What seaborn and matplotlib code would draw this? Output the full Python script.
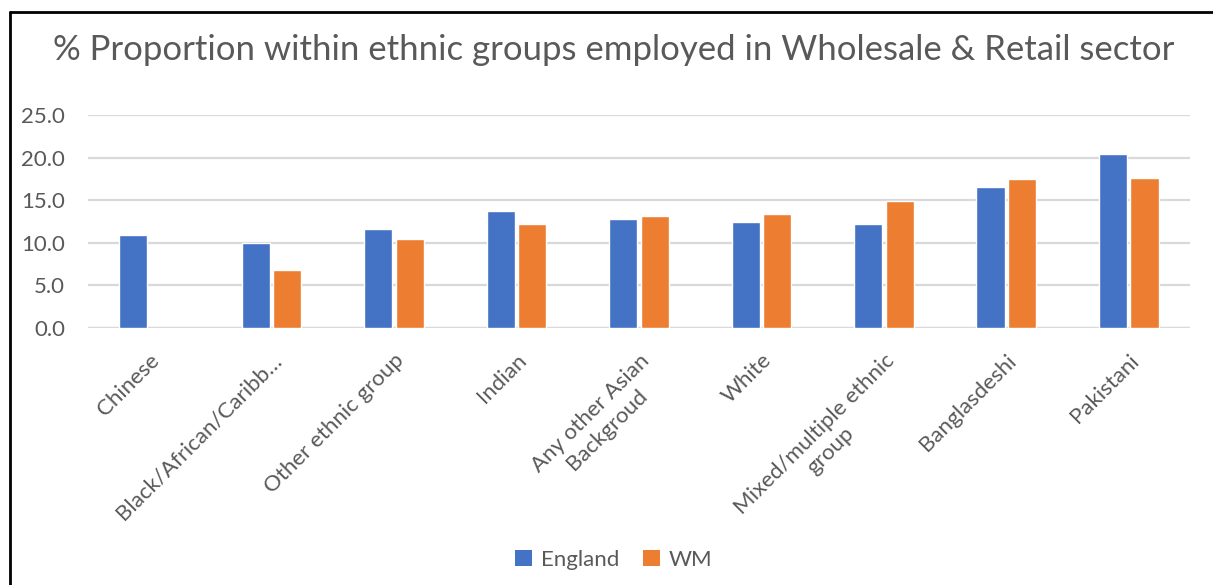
import numpy as np
import pandas as pd
import matplotlib
matplotlib.use("Agg")
import matplotlib.pyplot as plt
from matplotlib.lines import Line2D
from matplotlib.patches import Patch
import seaborn as sns

# Share of each ethnic group working in Wholesale & Retail (%)
categories = [
    "Chinese",
    "Black/African/Caribb…",
    "Other ethnic group",
    "Indian",
    "Any other Asian\nBackgroud",
    "White",
    "Mixed/multiple ethnic\ngroup",
    "Banglasdeshi",
    "Pakistani",
]
england = [10.9, 10.0, 11.6, 13.7, 12.8, 12.4, 12.2, 16.6, 20.4]
wm = [np.nan, 6.8, 10.4, 12.2, 13.2, 13.4, 14.9, 17.5, 17.6]
series = ["England", "WM"]
yticks = [0.0, 5.0, 10.0, 15.0, 20.0, 25.0]

df = pd.DataFrame({
    "group": categories * 2,
    "series": ["England"] * len(categories) + ["WM"] * len(categories),
    "value": england + wm,
})

sns.set_theme(style="white")
plt.rcParams["font.family"] = ["Lato", "DejaVu Sans"]
text_color = "#595959"
grid_color = "#D9D9D9"
palette = {"England": "#4472C4", "WM": "#ED7D31"}

fig = plt.figure(figsize=(12.13, 5.85), dpi=100)
ax = fig.add_axes([0.0725, 0.4393, 0.9085, 0.3641])

sns.barplot(
    data=df, x="group", y="value", hue="series",
    order=categories, hue_order=series, palette=palette,
    width=0.515, gap=0.11, errorbar=None, saturation=1,
    legend=False, ax=ax, zorder=3,
)

ax.set_ylim(0, 25)
ax.set_xlim(-0.5, len(categories) - 0.5)
ax.set_yticks(yticks)
ax.set_yticklabels([f"{v:.1f}" for v in yticks], fontsize=16, color=text_color)
ax.yaxis.grid(True, color=grid_color, linewidth=1.6, zorder=0)
ax.set_axisbelow(True)
for side in ["top", "right", "left", "bottom"]:
    ax.spines[side].set_visible(False)
ax.axhline(0, color=grid_color, linewidth=1.6, zorder=2)
ax.tick_params(axis="y", length=0, pad=16.5)
ax.tick_params(axis="x", length=0, pad=16)
ax.set_xlabel("")
ax.set_ylabel("")
ax.set_xticks(range(len(categories)))
ax.set_xticklabels(categories, rotation=45, ha="right", rotation_mode="anchor",
                   fontsize=16, color=text_color, multialignment="center")

fig.text(0.506, 0.915, "% Proportion within ethnic groups employed in Wholesale & Retail sector",
         ha="center", va="center", fontsize=25, color=text_color)

handles = [Patch(facecolor=palette[s], edgecolor="none") for s in series]
fig.legend(handles, series, loc="center", bbox_to_anchor=(0.506, 0.043),
           ncol=2, frameon=False, fontsize=16, labelcolor=text_color,
           handlelength=0.75, handleheight=0.75, handletextpad=0.4, columnspacing=1.1)

# Outer frame: left and top edges
fig.add_artist(Line2D([0.0082, 0.0082], [0, 0.98], transform=fig.transFigure,
                      color="black", linewidth=2))
fig.add_artist(Line2D([0.0082, 1.0], [0.98, 0.98], transform=fig.transFigure,
                      color="black", linewidth=2))

fig.savefig("out.png", dpi=100, facecolor="white")
